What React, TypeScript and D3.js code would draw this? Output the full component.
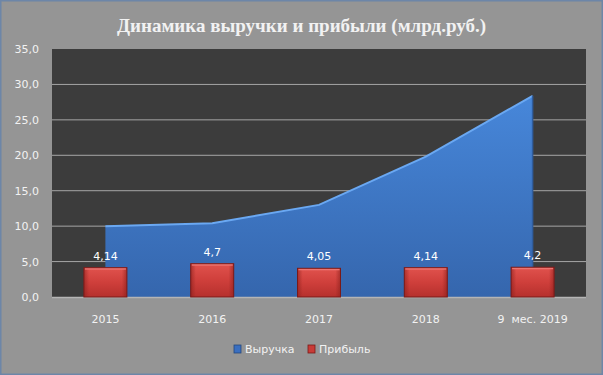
import React from "react";
import * as d3 from "d3";

const categories = ["2015", "2016", "2017", "2018", "9  мес. 2019"];
const revenue = [10.0, 10.4, 13.0, 19.8, 28.4];
const profit = [4.14, 4.7, 4.05, 4.14, 4.2];
const profitLabels = ["4,14", "4,7", "4,05", "4,14", "4,2"];
const yTicks = [0, 5, 10, 15, 20, 25, 30, 35];
const seriesNames = ["Выручка", "Прибыль"];
const title = "Динамика выручки и прибыли (млрд.руб.)";

const W = 603, H = 375;
const plot = { left: 52, right: 586, top: 49, bottom: 297 };

export default function App() {
  const x = d3.scaleBand<string>().domain(categories).range([plot.left, plot.right]).paddingInner(0).paddingOuter(0);
  const cx = (c: string) => (x(c) as number) + x.bandwidth() / 2;
  const y = d3.scaleLinear().domain([0, 35]).range([plot.bottom, plot.top]);
  const pts = categories.map((c, i) => [cx(c), revenue[i]] as [number, number]);
  const area = d3.area<[number, number]>().x(d => d[0]).y0(plot.bottom).y1(d => y(d[1]));
  const line = d3.line<[number, number]>().x(d => d[0]).y(d => y(d[1]));
  const barW = 43;
  const fmt = (v: number) => v.toFixed(1).replace(".", ",");
  return (
    <svg width={W} height={H} style={{ position: "absolute", left: 0, top: 0 }}>
      <defs>
        <linearGradient id="blueG" x1="0" y1="0" x2="0" y2="1">
          <stop offset="0" stopColor="#4787da" />
          <stop offset="1" stopColor="#3566ad" />
        </linearGradient>
        <linearGradient id="redG" x1="0" y1="0" x2="0" y2="1">
          <stop offset="0" stopColor="#e0524d" />
          <stop offset="0.5" stopColor="#cf3f3b" />
          <stop offset="1" stopColor="#b5302d" />
        </linearGradient>
        <linearGradient id="redSide" x1="0" y1="0" x2="1" y2="0">
          <stop offset="0" stopColor="#8a1f1c" stopOpacity="0.6" />
          <stop offset="0.12" stopColor="#8a1f1c" stopOpacity="0" />
          <stop offset="0.88" stopColor="#8a1f1c" stopOpacity="0" />
          <stop offset="1" stopColor="#8a1f1c" stopOpacity="0.6" />
        </linearGradient>
      </defs>
      <rect x={0.5} y={0.5} width={W - 1} height={H - 1} fill="#959595" stroke="#6d86a8" strokeWidth={2} />
      <text x={W / 2} y={32} textAnchor="middle" fontFamily="Liberation Serif, serif" fontWeight="bold" fontSize={19} fill="#f2f2f2">{title}</text>
      <rect x={plot.left} y={plot.top} width={plot.right - plot.left} height={plot.bottom - plot.top} fill="#3c3c3c" />
      {yTicks.map(t => (
        <g key={t}>
          {t > 0 && t < 35 && <line x1={plot.left} x2={plot.right} y1={y(t)} y2={y(t)} stroke="#a6a6a6" strokeWidth={1} />}
          <text x={39} y={y(t) + 4} textAnchor="end" fontFamily="DejaVu Sans, sans-serif" fontSize={11} fill="#f2f2f2">{fmt(t)}</text>
        </g>
      ))}
      <path d={area(pts) || ""} fill="url(#blueG)" />
      <path d={line(pts) || ""} fill="none" stroke="#6aa8f2" strokeWidth={2} />
      <line x1={pts[pts.length - 1][0]} x2={pts[pts.length - 1][0]} y1={y(revenue[revenue.length - 1])} y2={plot.bottom} stroke="#2f5d9e" strokeWidth={1.5} />
      <line x1={plot.left} x2={plot.right} y1={plot.bottom + 0.5} y2={plot.bottom + 0.5} stroke="#b5b5b5" strokeWidth={1.5} />
      {categories.map((c, i) => {
        const bx = cx(c) - barW / 2;
        const by = y(profit[i]);
        const bh = plot.bottom - by;
        return (
          <g key={c}>
            <rect x={bx} y={by} width={barW} height={bh} fill="url(#redG)" />
            <rect x={bx} y={by} width={barW} height={bh} fill="url(#redSide)" />
            <rect x={bx + 1} y={by} width={barW - 2} height={2} fill="#ec7470" />
            <rect x={bx} y={by} width={barW} height={bh} fill="none" stroke="#7a1a18" strokeWidth={1} />
            <text x={cx(c)} y={by - 8} textAnchor="middle" fontFamily="DejaVu Sans, sans-serif" fontSize={11} fill="#ffffff">{profitLabels[i]}</text>
            <text x={cx(c)} y={323} textAnchor="middle" fontFamily="DejaVu Sans, sans-serif" fontSize={11} fill="#f2f2f2" style={{ whiteSpace: "pre" }}>{c}</text>
          </g>
        );
      })}
      <g fontFamily="DejaVu Sans, sans-serif" fontSize={11} fill="#f2f2f2">
        <rect x={234} y={345} width={7} height={8} fill="#3a6fc0" stroke="#24487d" strokeWidth={0.8} />
        <text x={245} y={353}>{seriesNames[0]}</text>
        <rect x={308} y={345} width={7} height={8} fill="#c83b37" stroke="#7a1a18" strokeWidth={0.8} />
        <text x={319} y={353}>{seriesNames[1]}</text>
      </g>
    </svg>
  );
}
